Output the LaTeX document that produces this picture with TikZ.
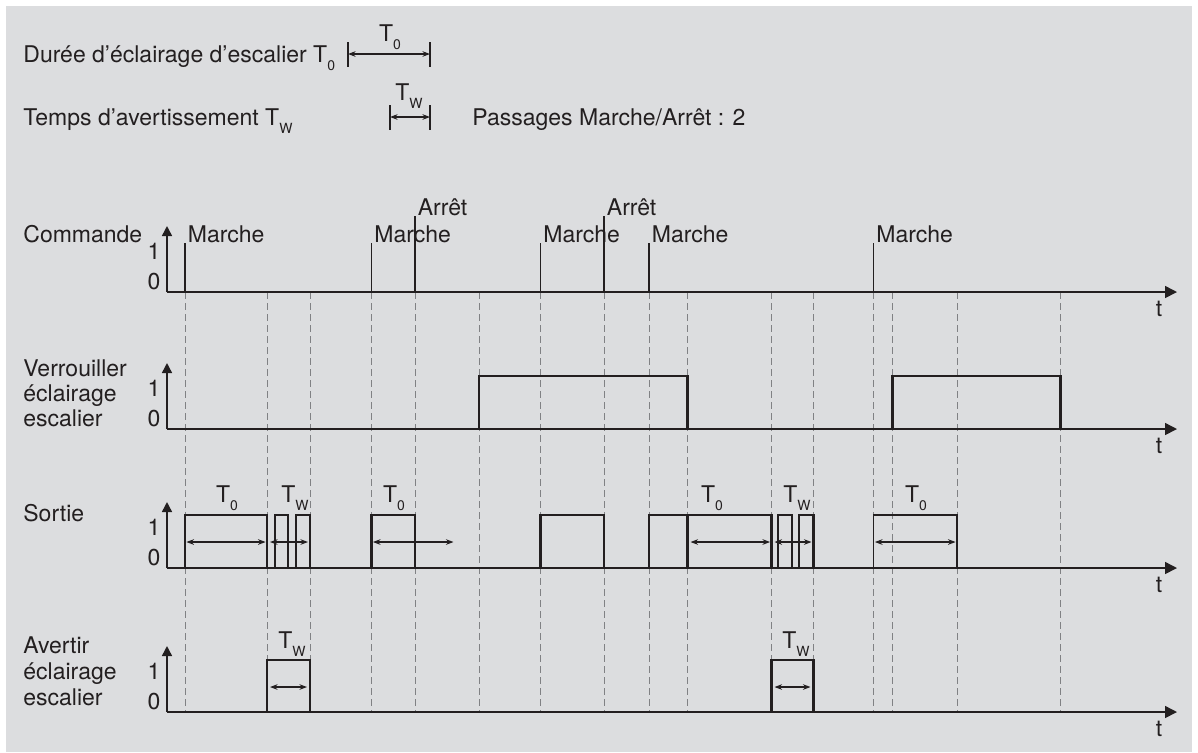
\documentclass[tikz,border=0pt]{standalone}
\usepackage{fontspec}
\setmainfont{TeX Gyre Heros}
\usepackage{xcolor}
\definecolor{panel}{HTML}{DCDDDF}
\definecolor{ink}{HTML}{231F20}
\definecolor{guidegray}{HTML}{808184}
\usepackage{tikz}
\usetikzlibrary{arrows.meta, calc, positioning}
\newcommand{\Tnull}{T\raisebox{-4pt}{\fontsize{7}{7}\selectfont 0}}
\newcommand{\Twarn}{T\raisebox{-4pt}{\fontsize{7}{7}\selectfont W}}

\begin{document}
\begin{tikzpicture}[x=0.5pt, y=-0.5pt, >={Stealth[length=3.8pt, width=2.8pt]},
  every node/.style={inner sep=0pt, text=ink, font=\fontsize{11.5}{13.5}\selectfont},
  axisline/.style={draw=ink, line width=0.75pt},
  sig/.style={draw=ink, line width=1.3pt},
  pulse/.style={draw=ink, line width=0.75pt},
  guide/.style={draw=guidegray, line width=0.5pt, dash pattern=on 3.5pt off 2pt},
  dim/.style={draw=ink, line width=0.6pt, <->},
  dimbar/.style={draw=ink, line width=0.7pt}]
  \useasboundingbox (0,0) rectangle (1198,752);
  \fill[panel] (6,6) rectangle (1192,752);
  % events on the time axis
  \foreach \n/\x in {A/185, B/267, C/310, D/371.5, E/415, F/479, G/540.5, H/604,
                     I/649, J/687.5, K/771.5, L/813.5, M/873.5, N/892.5, O/957, P/1060.5}
    \coordinate (\n) at (\x,0);
  \coordinate (b1) at (275,0);
  \coordinate (b2) at (288,0);
  \coordinate (b3) at (296,0);
  \coordinate (k1) at (778,0);
  \coordinate (k2) at (792,0);
  \coordinate (k3) at (799,0);
  % levels
  \coordinate (cmdM) at (0,243);
  \coordinate (cmdA) at (0,216);
  \coordinate (ver1) at (0,376);
  \coordinate (out1) at (0,515);
  \coordinate (outD) at (0,542);
  \coordinate (wrn1) at (0,660);
  \coordinate (wrnD) at (0,687);
  % legend
  \node[anchor=base west] (hdrDur) at (23,62) {Durée d’éclairage d’escalier \Tnull};
  \node[anchor=base west] (hdrWarn) at (23,125) {Temps d’avertissement \Twarn};
  \node[anchor=base west] (hdrPass) at (472,125) {Passages Marche/Arrêt : 2};
  \coordinate (d1a) at (348,54);
  \coordinate (d1b) at (430,54);
  \coordinate (d2a) at (390,117);
  \coordinate (d2b) at (430,117);
  \draw[dimbar] ($(d1a)+(0,-12)$) -- ($(d1a)+(0,13)$);
  \draw[dimbar] ($(d1b)+(0,-12)$) -- ($(d1b)+(0,13)$);
  \draw[dim] (d1a) -- (d1b);
  \node[anchor=base] (hdrT0) at (390,41) {\Tnull};
  \draw[dimbar] ($(d2a)+(0,-12)$) -- ($(d2a)+(0,13)$);
  \draw[dimbar] ($(d2b)+(0,-12)$) -- ($(d2b)+(0,13)$);
  \draw[dim] (d2a) -- (d2b);
  \node[anchor=base] (hdrTw) at (409,100) {\Twarn};
  % guide lines
  \foreach \n in {A,B,C,D,E,F,G,H,I,J,K,L,M,N,O,P}
    \draw[guide] (\n|-0,292) -- (\n|-0,712);
  % axes
  \foreach \r/\yb in {cmd/292, ver/429, out/568, wrn/712} {
    \coordinate (\r0) at (0,\yb);
    \draw[axisline, -{Triangle[length=5pt, width=5pt]}] (167,\yb) -- (167,\yb-66);
    \draw[axisline, -{Triangle[length=6pt, width=6pt]}] (167,\yb) -- (1177,\yb);
    \node[anchor=base] (\r One) at (154,\yb-33) {1};
    \node[anchor=base] (\r Zero) at (154,\yb-3) {0};
    \node[anchor=base] (\r T) at (1159,\yb+24) {t};
  }
  % Commande
  \node[anchor=base west] (cmdLbl) at (23,242) {Commande};
  \foreach \n in {A,D,G,I,M} {
    \draw[pulse] (\n|-cmd0) -- (\n|-cmdM);
    \node[anchor=base west] (on\n) at ($(\n|-0,242)+(2.5,0)$) {Marche};
  }
  \foreach \n in {E,H} {
    \draw[pulse] (\n|-cmd0) -- (\n|-cmdA);
    \node[anchor=base west] (off\n) at ($(\n|-0,215)+(2.5,0)$) {Arrêt};
  }
  % Verrouiller
  \node[anchor=base west] (verL1) at (23,376) {Verrouiller};
  \node[anchor=base west] (verL2) at (23,401) {éclairage};
  \node[anchor=base west] (verL3) at (23,426) {escalier};
  \draw[sig] (F|-ver0) -- (F|-ver1) -- (J|-ver1) -- (J|-ver0);
  \draw[sig] (N|-ver0) -- (N|-ver1) -- (P|-ver1) -- (P|-ver0);
  % Sortie
  \node[anchor=base west] (outLbl) at (23,521) {Sortie};
  \draw[sig] (A|-out0) -- (A|-out1) -- (B|-out1) -- (B|-out0);
  \draw[sig] (b1|-out0) -- (b1|-out1) -- (b2|-out1) -- (b2|-out0);
  \draw[sig] (b3|-out0) -- (b3|-out1) -- (C|-out1) -- (C|-out0);
  \draw[sig] (D|-out0) -- (D|-out1) -- (E|-out1) -- (E|-out0);
  \draw[sig] (G|-out0) -- (G|-out1) -- (H|-out1) -- (H|-out0);
  \draw[sig] (I|-out0) -- (I|-out1) -- (K|-out1) -- (K|-out0);
  \draw[sig] (J|-out0) -- (J|-out1);
  \draw[sig] (k1|-out0) -- (k1|-out1) -- (k2|-out1) -- (k2|-out0);
  \draw[sig] (k3|-out0) -- (k3|-out1) -- (L|-out1) -- (L|-out0);
  \draw[sig, line width=0.9pt] (M|-out0) -- (M|-out1) -- (O|-out1) -- (O|-out0);
  \draw[dim, shorten <=0.7pt, shorten >=0.7pt] (A|-outD) -- (B|-outD);
  \draw[dim] ($(B|-outD)+(3,0)$) -- ($(C|-outD)+(-2,0)$);
  \draw[dim, shorten <=0.7pt] (D|-outD) -- ($(D|-outD)+(82,0)$);
  \draw[dim, shorten <=1.5pt, shorten >=0.7pt] (J|-outD) -- (K|-outD);
  \draw[dim] ($(K|-outD)+(3,0)$) -- ($(L|-outD)+(-2,0)$);
  \draw[dim, shorten <=0.7pt, shorten >=0.7pt] (M|-outD) -- (O|-outD);
  \node[anchor=base] (outT0a) at (227,502) {\Tnull};
  \node[anchor=base] (outTwa) at (295,502) {\Twarn};
  \node[anchor=base] (outT0b) at (394,502) {\Tnull};
  \node[anchor=base] (outT0c) at (712,502) {\Tnull};
  \node[anchor=base] (outTwb) at (797,502) {\Twarn};
  \node[anchor=base] (outT0d) at (916,502) {\Tnull};
  % Avertir
  \node[anchor=base west] (wrnL1) at (23,653) {Avertir};
  \node[anchor=base west] (wrnL2) at (23,679) {éclairage};
  \node[anchor=base west] (wrnL3) at (23,705) {escalier};
  \draw[sig] (B|-wrn0) -- (B|-wrn1) -- (C|-wrn1) -- (C|-wrn0);
  \draw[sig] (K|-wrn0) -- (K|-wrn1) -- (L|-wrn1) -- (L|-wrn0);
  \draw[dim] ($(B|-wrnD)+(3,0)$) -- ($(C|-wrnD)+(-3,0)$);
  \draw[dim] ($(K|-wrnD)+(3,0)$) -- ($(L|-wrnD)+(-3,0)$);
  \node[anchor=base] (wrnTwa) at (292,648) {\Twarn};
  \node[anchor=base] (wrnTwb) at (796,648) {\Twarn};
\end{tikzpicture}
\end{document}
